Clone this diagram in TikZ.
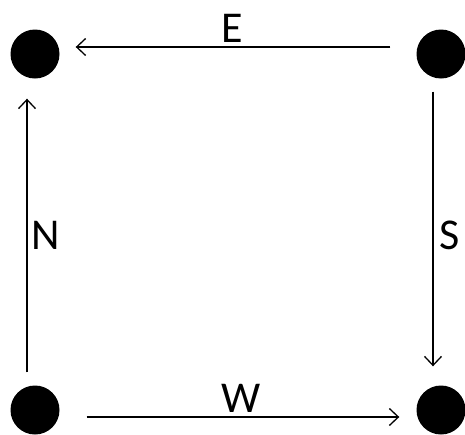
\documentclass[tikz,border=0pt]{standalone}
\usepackage{fontspec}
\setmainfont{Carlito}
\usetikzlibrary{arrows.meta}
\begin{document}
\begin{tikzpicture}[x=1pt,y=-1pt,
  dot/.style={circle,fill=black,inner sep=0pt,minimum size=49pt},
  arr/.style={line width=1.3pt,-{Straight Barb[length=9pt,width=17pt,line width=1.3pt]}},
  lbl/.style={font=\fontsize{44}{44}\selectfont,inner sep=0pt}]
\useasboundingbox (0,0) rectangle (465,434);
\node[dot] (tl) at (35,54) {};
\node[dot] (tr) at (441,54) {};
\node[dot] (bl) at (35,410) {};
\node[dot] (br) at (441,410) {};
\draw[arr] ([xshift=-26pt,yshift=7pt]tr.west) -- ([xshift=16pt,yshift=7pt]tl.east);
\draw[arr] ([xshift=-8pt,yshift=13pt]bl.north) -- ([xshift=-8pt,yshift=-20pt]tl.south);
\draw[arr] ([xshift=-8pt,yshift=-13pt]tr.south) -- ([xshift=-8pt,yshift=19pt]br.north);
\draw[arr] ([xshift=27pt,yshift=-7pt]bl.east) -- ([xshift=-17pt,yshift=-7pt]br.west);
\node[lbl] (e) at (232,28) {E};
\node[lbl] (n) at (46,235) {N};
\node[lbl] (s) at (450,235) {S};
\node[lbl] (w) at (241,398) {W};
\end{tikzpicture}
\end{document}
